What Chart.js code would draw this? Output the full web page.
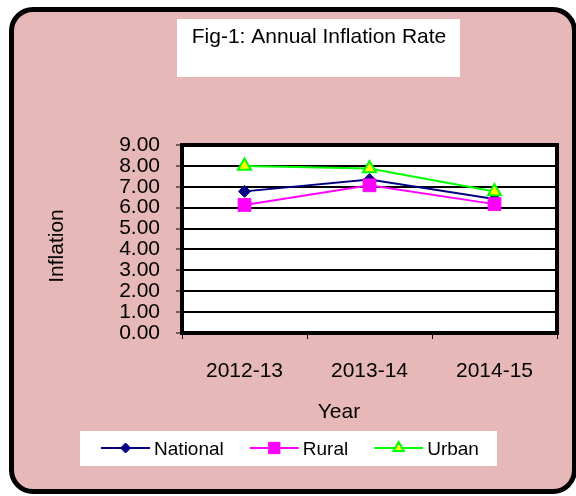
<!DOCTYPE html>
<html>
<head>
<meta charset="utf-8">
<script src="https://cdn.jsdelivr.net/npm/chart.js@4.4.1/dist/chart.umd.min.js"></script>
<style>
  html, body { margin: 0; padding: 0; background: #fff; }
  #wrap { position: relative; width: 576px; height: 496px; overflow: hidden; }
  #frame {
    position: absolute; left: 9px; top: 7px; width: 568px; height: 487px;
    box-sizing: border-box; border: 5px solid #000; border-radius: 24px;
    background: #E6B8B7;
  }
  #chart { position: absolute; left: 0; top: 0; }
</style>
</head>
<body>
<div id="wrap">
  <div id="frame"></div>
  <canvas id="chart" width="576" height="496"></canvas>
</div>
<script>
// Data
const years = ['2012-13', '2013-14', '2014-15'];
const nationalRate = [6.78, 7.35, 6.42];
const ruralRate = [6.13, 7.07, 6.17];
const urbanRate = [8.0, 7.88, 6.77];
const yMin = 0;
const yMax = 9;
const yStep = 1;

const FONT = "'Liberation Sans', Arial, sans-serif";
const FS = 21;
Chart.defaults.font.family = FONT;
Chart.defaults.font.size = FS;
Chart.defaults.color = '#000';

// Draws the white boxes, the plot frame, the texts and a legend with line + marker
const decorPlugin = {
  id: 'decor',
  beforeDraw(chart) {
    const ctx = chart.ctx;
    const a = chart.chartArea;
    ctx.save();
    ctx.fillStyle = '#fff';
    ctx.fillRect(177, 19, 283, 58);   // title box
    ctx.fillRect(80, 431, 417, 35);   // legend box
    ctx.fillRect(a.left, a.top, a.right - a.left, a.bottom - a.top);
    ctx.restore();
  },
  beforeDatasetsDraw(chart) {
    const ctx = chart.ctx;
    const a = chart.chartArea;
    ctx.save();
    ctx.strokeStyle = '#000';
    ctx.lineWidth = 4;
    ctx.strokeRect(a.left, a.top, a.right - a.left, a.bottom - a.top);
    ctx.restore();
  },
  afterDraw(chart) {
    const ctx = chart.ctx;
    ctx.save();
    ctx.fillStyle = '#000';
    ctx.font = FS + 'px ' + FONT;
    ctx.textBaseline = 'alphabetic';

    // title
    ctx.textAlign = 'center';
    ctx.fillText('Fig-1: Annual Inflation Rate', 319, 43);

    // axis titles
    ctx.fillText('Year', 339, 418);
    ctx.save();
    ctx.translate(63, 246);
    ctx.rotate(-Math.PI / 2);
    ctx.fillText('Inflation', 0, 0);
    ctx.restore();

    // legend
    ctx.font = '19px ' + FONT;
    const sets = chart.data.datasets.slice().sort((p, q) => q.order - p.order);
    const lineLen = 49, gap = 4, spacing = 26;
    const widths = sets.map(ds => lineLen + gap + ctx.measureText(ds.label).width);
    const total = widths.reduce((s, w) => s + w, 0) + spacing * (sets.length - 1);
    let x = 290 - total / 2;
    const y = 448;
    ctx.textAlign = 'left';
    sets.forEach((ds, i) => {
      ctx.strokeStyle = ds.borderColor;
      ctx.lineWidth = 2;
      ctx.beginPath();
      ctx.moveTo(x, y);
      ctx.lineTo(x + lineLen, y);
      ctx.stroke();
      ctx.fillStyle = ds.pointBackgroundColor;
      ctx.strokeStyle = ds.pointBorderColor;
      ctx.lineWidth = ds.pointBorderWidth;
      Chart.helpers.drawPoint(ctx, {
        pointStyle: ds.pointStyle,
        radius: ds.legendRadius,
        borderWidth: ds.pointBorderWidth,
        rotation: 0
      }, x + lineLen / 2, y);
      ctx.fillStyle = '#000';
      ctx.fillText(ds.label, x + lineLen + gap, 455);
      x += widths[i] + spacing;
    });
    ctx.restore();
  }
};

new Chart(document.getElementById('chart'), {
  type: 'line',
  data: {
    labels: years,
    datasets: [
      {
        label: 'National',
        data: nationalRate,
        borderColor: '#000080',
        borderWidth: 2,
        pointStyle: 'rectRot',
        pointRadius: 6,
        legendRadius: 5,
        pointBackgroundColor: '#000080',
        pointBorderColor: '#000080',
        pointBorderWidth: 1,
        order: 3
      },
      {
        label: 'Rural',
        data: ruralRate,
        borderColor: '#FF00FF',
        borderWidth: 2,
        pointStyle: 'rect',
        pointRadius: 9,
        legendRadius: 8,
        pointBackgroundColor: '#FF00FF',
        pointBorderColor: '#FF00FF',
        pointBorderWidth: 1,
        order: 2
      },
      {
        label: 'Urban',
        data: urbanRate,
        borderColor: '#00FF00',
        borderWidth: 2,
        pointStyle: 'triangle',
        pointRadius: 7.5,
        legendRadius: 6,
        pointBackgroundColor: '#FFFF00',
        pointBorderColor: '#00FF00',
        pointBorderWidth: 2,
        order: 1
      }
    ]
  },
  options: {
    responsive: false,
    devicePixelRatio: 1,
    animation: false,
    layout: { padding: { left: 0, right: 19, top: 145, bottom: 0 } },
    plugins: {
      legend: { display: false },
      title: { display: false },
      tooltip: { enabled: false }
    },
    scales: {
      x: {
        offset: true,
        afterFit(scale) { scale.height = 496 - 333; },
        grid: {
          offset: true,
          drawOnChartArea: false,
          drawTicks: true,
          tickLength: 6,
          tickWidth: 1,
          tickColor: '#000'
        },
        border: { display: false },
        ticks: { padding: 20, maxRotation: 0 }
      },
      y: {
        min: yMin,
        max: yMax,
        afterFit(scale) { scale.width = 182; },
        grid: {
          color: '#000',
          lineWidth: 2,
          drawTicks: true,
          tickLength: 6,
          tickWidth: 1,
          tickColor: '#000'
        },
        border: { display: false },
        ticks: {
          stepSize: yStep,
          autoSkip: false,
          padding: 16,
          callback: v => Number(v).toFixed(2)
        }
      }
    }
  },
  plugins: [decorPlugin]
});
</script>
</body>
</html>
